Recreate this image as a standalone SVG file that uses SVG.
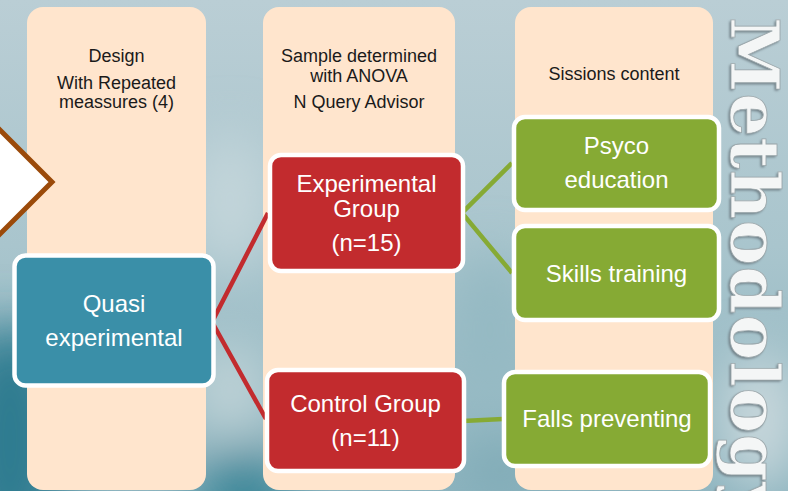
<svg xmlns="http://www.w3.org/2000/svg" width="788" height="491" viewBox="0 0 788 491">
  <defs>
    <linearGradient id="bg" x1="0" y1="0" x2="0" y2="1">
      <stop offset="0" stop-color="#BACED5"/>
      <stop offset="0.5" stop-color="#A9C5CD"/>
      <stop offset="1" stop-color="#8DB4BF"/>
    </linearGradient>
    <filter id="blur" x="-50%" y="-50%" width="200%" height="200%">
      <feGaussianBlur stdDeviation="25"/>
    </filter>
    <filter id="soft" x="-10%" y="-10%" width="120%" height="120%">
      <feGaussianBlur stdDeviation="0.8"/>
    </filter>
    <style>
      .col { fill: #FFE5CD; }
      .hdr { font-family: "Liberation Sans", Arial, sans-serif; font-size: 18px; fill: #1a1a1a; text-anchor: middle; }
      .lbl { font-family: "Liberation Sans", Arial, sans-serif; font-size: 24px; fill: #ffffff; text-anchor: middle; }
      .box { stroke: #ffffff; stroke-width: 4.5; }
      .teal { fill: #3A8FA8; }
      .red { fill: #C22B2E; }
      .green { fill: #86AA34; }
      .cr { fill: none; stroke: #C22B2E; stroke-width: 4.5; }
      .cg { fill: none; stroke: #86AA34; stroke-width: 4.5; }
      .meth { font-family: "DejaVu Serif", "Liberation Serif", serif; font-size: 68px; font-weight: bold; }
    </style>
  </defs>

  <!-- background -->
  <rect x="0" y="0" width="788" height="491" fill="url(#bg)"/>
  <g filter="url(#blur)">
    <ellipse cx="10" cy="440" rx="60" ry="120" fill="#2E7B90"/>
    <ellipse cx="245" cy="500" rx="50" ry="50" fill="#3E8799"/>
    <ellipse cx="230" cy="390" rx="40" ry="50" fill="#BDD1D6"/>
    <ellipse cx="230" cy="200" rx="40" ry="70" fill="#C3D5DA"/>
    <ellipse cx="490" cy="330" rx="40" ry="80" fill="#94B9C3"/>
    <ellipse cx="760" cy="420" rx="40" ry="70" fill="#C7D7DB"/>
    <ellipse cx="500" cy="470" rx="40" ry="30" fill="#7FAAB6"/>
  </g>

  <!-- Methodology vertical title -->
  <g id="title">
    <text class="meth" transform="translate(729.5,18.5) rotate(90)" textLength="505" lengthAdjust="spacing" fill="#6F7F86" filter="url(#soft)">Methodology</text>
    <text class="meth" transform="translate(731,17) rotate(90)" textLength="505" lengthAdjust="spacing" fill="#F4F6F6" stroke="#9AA6AA" stroke-width="0.8">Methodology</text>
  </g>

  <!-- columns -->
  <g id="col-design">
    <rect class="col" x="27" y="7" width="179" height="483" rx="16"/>
    <text class="hdr" x="116.5" y="62">Design</text>
    <text class="hdr" x="116.5" y="89">With Repeated</text>
    <text class="hdr" x="116.5" y="108">meassures (4)</text>
  </g>
  <g id="col-sample">
    <rect class="col" x="263" y="7" width="192" height="483" rx="16"/>
    <text class="hdr" x="359" y="62">Sample determined</text>
    <text class="hdr" x="359" y="82">with ANOVA</text>
    <text class="hdr" x="359" y="108">N Query Advisor</text>
  </g>
  <g id="col-sessions">
    <rect class="col" x="515" y="7" width="198" height="483" rx="16"/>
    <text class="hdr" x="614" y="80">Sissions content</text>
  </g>

  <!-- arrow shape -->
  <g id="arrow">
    <polygon points="-30,100 52,182 -30,264" fill="#ffffff" stroke="#9B4A0A" stroke-width="5"/>
  </g>

  <!-- connectors -->
  <g id="connectors">
    <polyline class="cr" points="268,213 212,322 266,419"/>
    <polyline class="cg" points="512,163 462,213 512,273"/>
    <line class="cg" x1="463" y1="421" x2="503" y2="419"/>
  </g>

  <!-- nodes -->
  <g id="quasi">
    <rect class="box teal" x="14.5" y="255.5" width="199" height="130" rx="11"/>
    <text class="lbl" x="114" y="312">Quasi</text>
    <text class="lbl" x="114" y="346">experimental</text>
  </g>
  <g id="experimental">
    <rect class="box red" x="270" y="155" width="193" height="116" rx="11"/>
    <text class="lbl" x="366.5" y="192">Experimental</text>
    <text class="lbl" x="366.5" y="217">Group</text>
    <text class="lbl" x="366.5" y="251">(n=15)</text>
  </g>
  <g id="control">
    <rect class="box red" x="267" y="370" width="197" height="101" rx="11"/>
    <text class="lbl" x="365.5" y="412">Control Group</text>
    <text class="lbl" x="365.5" y="446">(n=11)</text>
  </g>
  <g id="psyco">
    <rect class="box green" x="514" y="117" width="205" height="93" rx="11"/>
    <text class="lbl" x="616.5" y="154">Psyco</text>
    <text class="lbl" x="616.5" y="188">education</text>
  </g>
  <g id="skills">
    <rect class="box green" x="514" y="226" width="205" height="94" rx="11"/>
    <text class="lbl" x="616.5" y="282">Skills training</text>
  </g>
  <g id="falls">
    <rect class="box green" x="504" y="372" width="206" height="94" rx="11"/>
    <text class="lbl" x="607" y="427">Falls preventing</text>
  </g>
</svg>
